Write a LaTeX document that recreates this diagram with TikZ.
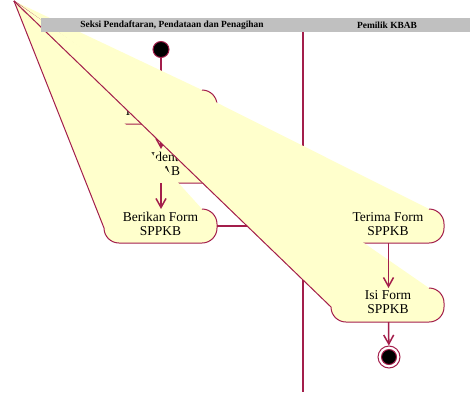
\documentclass[tikz,border=0pt]{standalone}
\usepackage{fontspec}
\setmainfont{Liberation Serif}
\usetikzlibrary{arrows.meta}
\definecolor{umlred}{RGB}{163,30,75}
\definecolor{umlfill}{RGB}{255,255,204}
\definecolor{lanegray}{RGB}{192,192,192}
\tikzset{
  actfill/.style={fill=umlfill},
  actedge/.style={draw=umlred, line width=1pt, line join=round},
  acttext/.style={align=center, font=\fontsize{13.5}{14}\selectfont, inner sep=0pt},
  flow/.style={draw=umlred, line width=1.5pt, -{Straight Barb[length=9pt,width=10pt]}},
  lane/.style={draw=umlred, line width=1.7pt},
  lanehead/.style={font=\bfseries\fontsize{9.4}{10}\selectfont, inner sep=0pt},
  startnode/.style={circle, fill=black, draw=umlred, line width=1pt, minimum size=16pt, inner sep=0pt},
  endouter/.style={circle, fill=white, draw=umlred, line width=1pt, minimum size=22pt, inner sep=0pt},
  endinner/.style={circle, fill=black, draw=umlred, line width=1pt, minimum size=15pt, inner sep=0pt},
}
% activity outline as rendered: left part replaced by a ray from the origin point O
\newcommand\actshape[2]{%
  \pgfmathsetmacro\ax{#1}%
  \pgfmathsetmacro\ar{#1+113}%
  \pgfmathsetmacro\at{392-#2}%
  \pgfmathsetmacro\ab{392-#2-34}%
  \fill[actfill] (O) -- (\ax,\ab+15) arc[start angle=180,end angle=270,radius=15pt]
     -- (\ar-15,\ab) arc[start angle=270,end angle=360,radius=15pt]
     -- (\ar,\at-15) arc[start angle=0,end angle=90,radius=15pt] -- cycle;
  \draw[actedge] (O) -- (\ax,\ab+15) arc[start angle=180,end angle=270,radius=15pt]
     -- (\ar-15,\ab) arc[start angle=270,end angle=360,radius=15pt]
     -- (\ar,\at-15) arc[start angle=0,end angle=90,radius=15pt];
}
\begin{document}
\begin{tikzpicture}[x=1pt,y=1pt]
\useasboundingbox (0,0) rectangle (470,392);
\coordinate (O) at (14,391);
% anchors
\coordinate (a1n) at (161,302);
\coordinate (a1s) at (161,268);
\coordinate (a2n) at (161,243);
\coordinate (a2s) at (161,209);
\coordinate (a3n) at (161,183);
\coordinate (a3e) at (217,166);
\coordinate (a4w) at (331,166);
\coordinate (a4s) at (388.5,149);
\coordinate (a5n) at (388.5,104);
\coordinate (a5s) at (388.5,70);
\coordinate (ltop) at (303,360);
\coordinate (lbot) at (303,0);

% lane divider
\draw[lane] (ltop) -- (lbot);

% initial node
\node[startnode] (start) at (161,342.5) {};
\draw[flow] (start) -- (a1n);

% activity 2 (drawn before activity 1)
\actshape{104}{149}
\node[acttext] (t2) at (161.5,228) {Cek Identitas\\KBAB};

% activity 1
\actshape{104}{90}
\node[acttext] (t1) at (161.5,287) {Periksa\\Kelengkapan};
\draw[flow] (a1s) -- (a2n);

% activity 3
\actshape{104}{209}
\node[acttext] (t3) at (160.5,168) {Berikan Form\\SPPKB};
\draw[flow] (a2s) -- (a3n);
\draw[flow] (a3e) -- (a4w);

% activity 4
\actshape{331}{209}
\node[acttext] (t4) at (388,168) {Terima Form\\SPPKB};

% activity 5
\actshape{331}{288}
\node[acttext] (t5) at (388,90) {Isi Form\\SPPKB};
\draw[flow] (a4s) -- (a5n);

% final node
\node[endouter] (endo) at (389,35) {};
\node[endinner] (endi) at (389,35) {};
\draw[flow] (a5s) -- (endo);

% swimlane header
\fill[lanegray] (41,374) rectangle (470,360);
\node[lanehead] (lane1) at (172,367) {Seksi Pendaftaran, Pendataan dan Penagihan};
\node[lanehead] (lane2) at (387,367) {Pemilik KBAB};
\end{tikzpicture}
\end{document}
